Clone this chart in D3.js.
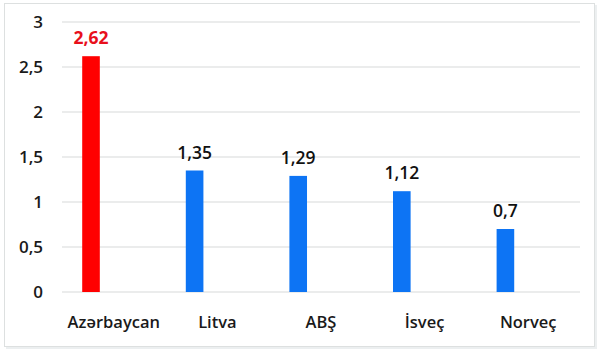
<!DOCTYPE html>
<html>
<head>
<meta charset="utf-8">
<script src="https://cdn.jsdelivr.net/npm/d3@7"></script>
<style>
  body { margin: 0; background: #fff; }
  svg { display: block; font-family: "Open Sans", sans-serif; }
</style>
</head>
<body>
<div id="chart"></div>
<script>
// data
const countries = ["Azərbaycan", "Litva", "ABŞ", "İsveç", "Norveç"];
const values = [2.62, 1.35, 1.29, 1.12, 0.7];
const valueLabels = ["2,62", "1,35", "1,29", "1,12", "0,7"];
const yTicks = [0, 0.5, 1, 1.5, 2, 2.5, 3];
const yTickLabels = ["0", "0,5", "1", "1,5", "2", "2,5", "3"];

const width = 600, height = 352;
const margin = {top: 22, right: 20, bottom: 60, left: 62};

const svg = d3.select("#chart")
    .append("svg")
    .attr("width", width)
    .attr("height", height);

// frame round the chart, with a faint shadow on the right
svg.append("rect")
    .attr("x", 6).attr("y", 5)
    .attr("width", 591).attr("height", 344)
    .attr("fill", "#eceff0");
svg.append("rect")
    .attr("x", 4.5).attr("y", 3.5)
    .attr("width", 590).attr("height", 343)
    .attr("fill", "#fff")
    .attr("stroke", "#dde0e0");

const x = d3.scaleBand()
    .domain(countries)
    .range([margin.left, width - margin.right])
    .padding(0);

const y = d3.scaleLinear()
    .domain([0, 3])
    .range([height - margin.bottom, margin.top]);

// gridlines
svg.append("g")
    .selectAll("line")
    .data(yTicks)
    .join("line")
    .attr("x1", margin.left)
    .attr("x2", width - margin.right)
    .attr("y1", d => y(d))
    .attr("y2", d => y(d))
    .attr("stroke", "#e4e6e6")
    .attr("stroke-width", 1.5);

// y tick labels
svg.append("g")
    .selectAll("text")
    .data(yTicks)
    .join("text")
    .attr("x", 43)
    .attr("y", d => y(d))
    .attr("dy", "0.36em")
    .attr("text-anchor", "end")
    .attr("font-size", 17)
    .attr("font-weight", 600)
    .attr("fill", "#1a1a1a")
    .text((d, i) => yTickLabels[i]);

// bars sit in the left part of each slot (first series of a group)
const barOffset = x.bandwidth() * 0.195;
const barWidth = x.bandwidth() * 0.17;

svg.append("g")
    .selectAll("rect")
    .data(countries)
    .join("rect")
    .attr("x", d => x(d) + barOffset)
    .attr("y", (d, i) => y(values[i]))
    .attr("width", barWidth)
    .attr("height", (d, i) => y(0) - y(values[i]))
    .attr("fill", (d, i) => i === 0 ? "#ff0000" : "#0d74f4");

// value labels
svg.append("g")
    .selectAll("text")
    .data(countries)
    .join("text")
    .attr("x", d => x(d) + barOffset + barWidth / 2)
    .attr("y", (d, i) => y(values[i]) - 12)
    .attr("text-anchor", "middle")
    .attr("font-size", 17.5)
    .attr("font-weight", (d, i) => i === 0 ? 700 : 600)
    .attr("fill", (d, i) => i === 0 ? "#e8101c" : "#111")
    .text((d, i) => valueLabels[i]);

// category labels
svg.append("g")
    .selectAll("text")
    .data(countries)
    .join("text")
    .attr("x", d => x(d) + x.bandwidth() / 2)
    .attr("y", 328)
    .attr("text-anchor", "middle")
    .attr("font-size", 16.5)
    .attr("font-weight", 600)
    .attr("fill", "#1a1a1a")
    .text(d => d);
</script>
</body>
</html>
